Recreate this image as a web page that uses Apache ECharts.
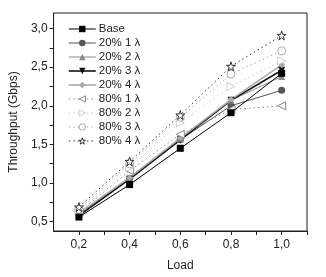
<!DOCTYPE html>
<html>
<head>
<meta charset="utf-8">
<script src="https://cdn.jsdelivr.net/npm/echarts@6/dist/echarts.min.js"></script>
<style>
  html, body { margin: 0; padding: 0; background: #fff; }
  #chart { width: 326px; height: 277px; }
</style>
</head>
<body>
<div id="chart"></div>
<script>
// 横轴：负载
const loads = [0.2, 0.4, 0.6, 0.8, 1.0]

// 各组吞吐量 (Gbps)
const base = [0.56, 0.98, 1.45, 1.91, 2.42]
const p20l1 = [0.60, 1.06, 1.56, 2.00, 2.20]
const p20l2 = [0.60, 1.07, 1.57, 2.07, 2.38]
const p20l3 = [0.58, 1.05, 1.56, 2.07, 2.46]
const p20l4 = [0.61, 1.07, 1.58, 2.08, 2.53]
const p80l1 = [0.62, 1.16, 1.63, 1.95, 2.00]
const p80l2 = [0.64, 1.20, 1.78, 2.25, 2.58]
const p80l3 = [0.66, 1.25, 1.85, 2.41, 2.71]
const p80l4 = [0.69, 1.28, 1.88, 2.51, 2.91]

// 刻度
const xLabels = [0.2, 0.4, 0.6, 0.8, 1.0]
const xTicks = [0.2, 0.3, 0.4, 0.5, 0.6, 0.7, 0.8, 0.9, 1.0, 1.1]
const yLabels = [0.5, 1.0, 1.5, 2.0, 2.5, 3.0]
const yTicks = [0.5, 0.75, 1.0, 1.25, 1.5, 1.75, 2.0, 2.25, 2.5, 2.75, 3.0]

const star = 'path://M50,0 L61,35 L98,35 L68,57 L79,91 L50,70 L21,91 L32,57 L2,35 L39,35 Z'

const fmt = v => v.toFixed(1).replace('.', ',')

const legendItems = []

// 生成一条折线
const mk = (name, vals, color, symbol, opts = {}) => {
  const itemStyle = opts.hollow
    ? { color: '#fff', borderColor: color, borderWidth: 1 }
    : { color, borderColor: color, borderWidth: 0 }
  const lineStyle = {
    color,
    width: opts.width || 1,
    type: opts.dotted ? [1.5, 3] : 'solid'
  }
  legendItems.push({ name, itemStyle, lineStyle })
  return {
    name,
    type: 'line',
    data: loads.map((x, i) => [x, vals[i]]),
    symbol,
    symbolSize: opts.size || 7,
    symbolRotate: opts.rotate || 0,
    lineStyle,
    itemStyle,
    z: opts.z || 2
  }
}

const series = [
  mk('Base', base, '#000', 'rect', { z: 5 }),
  mk('20% 1 λ', p20l1, '#555', 'circle'),
  mk('20% 2 λ', p20l2, '#8a8a8a', 'triangle'),
  mk('20% 3 λ', p20l3, '#111', 'triangle', { rotate: 180, width: 1.6 }),
  mk('20% 4 λ', p20l4, '#aaa', 'diamond', { width: 1.6 }),
  mk('80% 1 λ', p80l1, '#888', 'triangle', { rotate: 90, hollow: true, dotted: true, size: 8 }),
  mk('80% 2 λ', p80l2, '#ccc', 'triangle', { rotate: -90, hollow: true, dotted: true, size: 8 }),
  mk('80% 3 λ', p80l3, '#aaa', 'circle', { hollow: true, dotted: true, size: 8 }),
  mk('80% 4 λ', p80l4, '#333', star, { hollow: true, dotted: true, size: 9 })
]

const chart = echarts.init(document.getElementById('chart'))

chart.setOption({
  animation: false,
  textStyle: { fontFamily: 'Liberation Sans, Arial, sans-serif' },
  grid: {
    left: 52, right: 19, top: 13, bottom: 42,
    show: true, borderColor: '#222', borderWidth: 1
  },
  legend: {
    orient: 'vertical',
    left: 68,
    top: 23,
    padding: 0,
    itemWidth: 27,
    itemHeight: 8,
    itemGap: 2,
    textStyle: { fontSize: 11.5, color: '#222', lineHeight: 10, padding: [0, 0, 0, -2] },
    data: legendItems
  },
  xAxis: {
    type: 'value',
    min: 0.1,
    max: 1.1,
    name: 'Load',
    nameLocation: 'middle',
    nameGap: 29,
    nameTextStyle: { fontSize: 12, color: '#222' },
    axisLine: { lineStyle: { color: '#222' } },
    axisTick: { customValues: xTicks, length: 4, lineStyle: { color: '#222' } },
    axisLabel: { customValues: xLabels, formatter: fmt, fontSize: 12, color: '#222', margin: 8 },
    splitLine: { show: false }
  },
  yAxis: {
    type: 'value',
    min: 0.38,
    max: 3.2,
    name: 'Throughput (Gbps)',
    nameLocation: 'middle',
    nameGap: 30,
    nameTextStyle: { fontSize: 12, color: '#222' },
    axisLine: { lineStyle: { color: '#222' } },
    axisTick: { customValues: yTicks, length: 4, lineStyle: { color: '#222' } },
    axisLabel: { customValues: yLabels, formatter: fmt, fontSize: 12, color: '#222', margin: 6 },
    splitLine: { show: false }
  },
  series
})

window.addEventListener('resize', () => chart.resize())
</script>
</body>
</html>
